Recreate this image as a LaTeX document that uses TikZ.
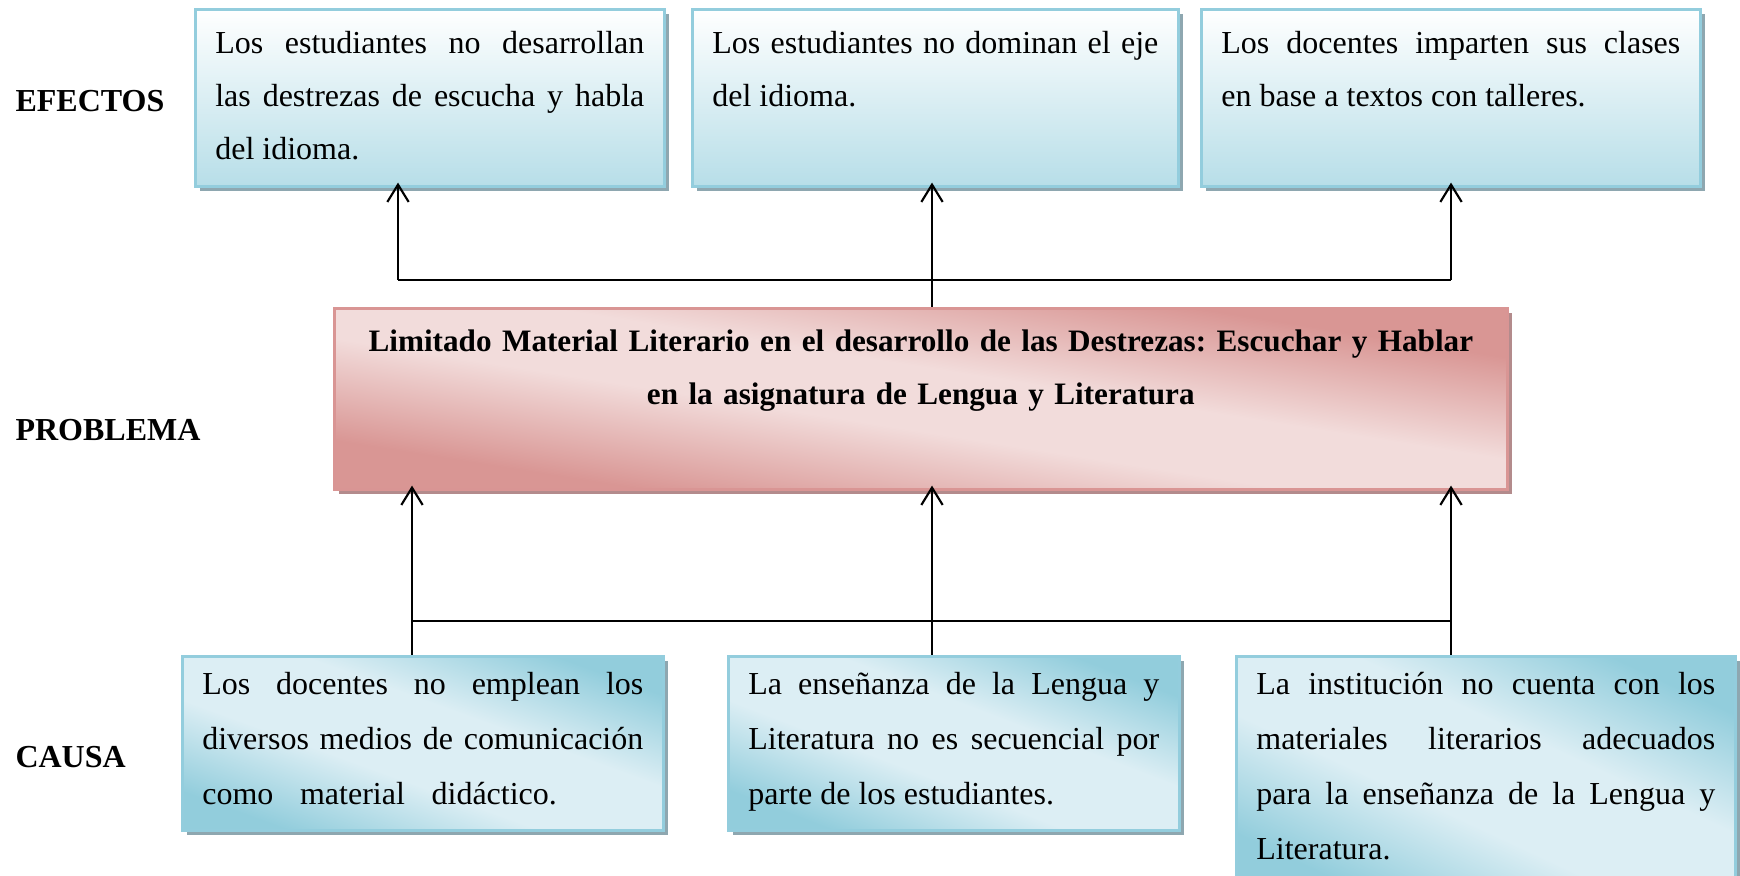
\documentclass[tikz,border=0pt]{standalone}
\usepackage{fontspec}
\setmainfont{Liberation Serif}
\usetikzlibrary{arrows.meta,shadows}

\definecolor{bordeazul}{HTML}{93CDDD}
\definecolor{azul}{HTML}{92CDDC}
\definecolor{azulclaro}{HTML}{DCEEF4}
\definecolor{azulabajo}{HTML}{B7DEE8}
\definecolor{sombraazul}{HTML}{8EA7B0}
\definecolor{rosa}{HTML}{D99694}
\definecolor{rosaclaro}{HTML}{F2DCDB}
\definecolor{borderosa}{HTML}{D99594}
\definecolor{sombrarosa}{HTML}{B38B8C}

\pgfdeclarehorizontalshading{bandaazul}{100bp}{color(0bp)=(azul); color(25bp)=(azul); color(42bp)=(azulclaro); color(58bp)=(azulclaro); color(75bp)=(azul); color(100bp)=(azul)}
\pgfdeclarehorizontalshading{bandarosa}{100bp}{color(0bp)=(rosa); color(29bp)=(rosa); color(45bp)=(rosaclaro); color(55bp)=(rosaclaro); color(71bp)=(rosa); color(100bp)=(rosa)}

\hyphenpenalty=10000
\exhyphenpenalty=10000
\tolerance=9999
\frenchspacing

\begin{document}
\begin{tikzpicture}[x=0.375pt,y=-0.375pt]
      \useasboundingbox (0,0) rectangle (1740,876);

      \begin{scope}[every node/.style={anchor=base west,inner sep=0pt,font=\fontsize{12}{14}\bfseries\selectfont}]
        \node (efectos)  at (15,112) {EFECTOS};
        \node (problema) at (15,440) {PROBLEMA};
        \node (causa)    at (15,767) {CAUSA};
      \end{scope}

      \begin{scope}[every node/.style={anchor=north west,draw=bordeazul,line width=1pt,
          top color=white,bottom color=azulabajo,
          drop shadow={shadow xshift=1.9pt,shadow yshift=-1.9pt,fill=sombraazul,opacity=1},
          inner xsep=7.5pt,inner ysep=0pt,align=justify,
          text height=16.5pt,text depth=49.875pt,font=\fontsize{12}{20}\selectfont}]
        \node[text width=160.875pt] (e1) at (194,8)  {Los estudiantes no desarrollan\linebreak las destrezas de escucha y habla\linebreak del idioma.};
        \node[text width=167.25pt]  (e2) at (691,8)  {Los estudiantes no dominan el eje\linebreak del idioma.};
        \node[text width=172.125pt] (e3) at (1200,8) {Los docentes imparten sus clases\linebreak en base a textos con talleres.};
      \end{scope}

      \begin{scope}[every node/.style={anchor=north west,draw=borderosa,line width=1pt,
          shading=bandarosa,
          drop shadow={shadow xshift=1.9pt,shadow yshift=-1.9pt,fill=sombrarosa,opacity=1},
          inner xsep=3pt,inner ysep=0pt,align=center,
          text height=16.125pt,text depth=51.75pt,font=\fontsize{11.7}{19.9}\bfseries\selectfont}]
        \node[text width=433.875pt,shading angle=81] (prob) at (333,307) {Limitado Material Literario en el desarrollo de las Destrezas: Escuchar y Hablar\\ en la asignatura de Lengua y Literatura};
      \end{scope}

      \begin{scope}[every node/.style={anchor=north west,draw=bordeazul,line width=1pt,
          shading=bandaazul,
          drop shadow={shadow xshift=1.9pt,shadow yshift=-1.9pt,fill=sombraazul,opacity=1},
          inner xsep=7.5pt,inner ysep=0pt,align=justify,
          text height=14.25pt,text depth=51pt,font=\fontsize{12}{20.6}\selectfont}]
        \node[text width=165.375pt,shading angle=70] (c1) at (181,655)  {Los docentes no emplean los\linebreak diversos medios de comunicación\linebreak como\hspace{10pt}material\hspace{10pt}didáctico.};
        \node[text width=154.125pt,shading angle=69] (c2) at (727,655)  {La enseñanza de la Lengua y\linebreak Literatura no es secuencial por\linebreak parte de los estudiantes.};
        \node[text width=172.125pt,text depth=73.875pt,shading angle=65] (c3) at (1235,655) {La institución no cuenta con los\linebreak materiales literarios adecuados\linebreak para la enseñanza de la Lengua y\linebreak Literatura.};
      \end{scope}

      \coordinate (t1) at (398,280);
      \coordinate (t2) at (932,280);
      \coordinate (t3) at (1451,280);
      \coordinate (b1) at (412,621);
      \coordinate (b2) at (932,621);
      \coordinate (b3) at (1451,621);

      \begin{scope}[every edge/.style={draw,line width=0.8pt}]
        \path (t1) edge (t3)
              (prob.north -| t2) edge (t2)
              (b1) edge (b3)
              (b1) edge (b1 |- c1.north)
              (b2) edge (b2 |- c2.north)
              (b3) edge (b3 |- c3.north);
      \end{scope}

      \begin{scope}[every edge/.style={draw,line width=0.8pt,-{Straight Barb[length=6.5pt,width=8pt]},shorten >=-1.9pt}]
        \path (t1) edge (t1 |- e1.south)
              (t2) edge (t2 |- e2.south)
              (t3) edge (t3 |- e3.south)
              (b1) edge (b1 |- prob.south)
              (b2) edge (b2 |- prob.south)
              (b3) edge (b3 |- prob.south);
      \end{scope}

    \end{tikzpicture}
\end{document}
